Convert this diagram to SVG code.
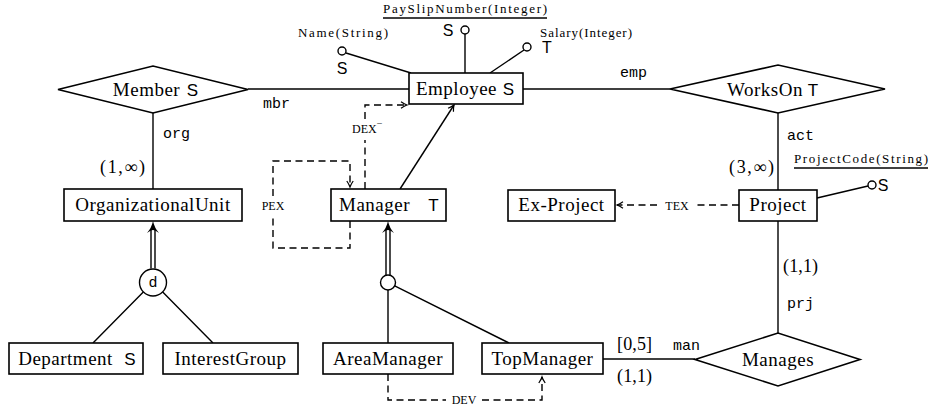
<svg xmlns="http://www.w3.org/2000/svg" width="930" height="409" viewBox="0 0 930 409">
<style>
.box{fill:#fff;stroke:#000;stroke-width:1.6}
.lbl{font-family:'Liberation Serif','Tinos','Times New Roman','DejaVu Serif',serif;font-size:19px;letter-spacing:0.5px;text-anchor:middle;fill:#000}
.sf{font-family:'Liberation Sans','Arimo','DejaVu Sans',sans-serif;font-size:17px;letter-spacing:0px}
.mk{font-family:'Liberation Sans','Arimo','DejaVu Sans',sans-serif;font-size:16px;text-anchor:middle}
.tt{font-family:'Liberation Mono','Cousine','DejaVu Sans Mono',monospace;font-size:15px}
.att{font-family:'Liberation Serif','Tinos','Times New Roman','DejaVu Serif',serif;font-size:13px}
.sc{font-family:'Liberation Serif','Tinos','Times New Roman','DejaVu Serif',serif;font-size:12px}
.math{font-family:'Liberation Serif','Tinos','Times New Roman','DejaVu Serif',serif;font-size:18px}
.ln{stroke:#000;stroke-width:1.4;fill:none}
.dash{stroke:#000;stroke-width:1.4;fill:none;stroke-dasharray:7 4.5}
.ac{fill:#fff;stroke:#000;stroke-width:1.4}
.ul{stroke:#000;stroke-width:1.3}
</style>
<defs>
<marker id="arr" markerUnits="userSpaceOnUse" markerWidth="12" markerHeight="12" viewBox="-8 -6 10 12" refX="0" refY="0" orient="auto" overflow="visible">
<path d="M-6,-3.2 Q-2.5,-0.8 0,0 Q-2.5,0.8 -6,3.2" fill="none" stroke="#000" stroke-width="1.2" stroke-dasharray="none"/>
</marker>
<path id="genhead" d="M0,0 Q1.5,7 6,12 Q2,9 0,9 Q-2,9 -6,12 Q-1.5,7 0,0 Z" fill="#000"/>
</defs>

<g id="connectors">
<path class="ln" d="M248,89 H409"/>
<path class="ln" d="M523,89 H670"/>
<path class="ln" d="M153,113 V189"/>
<path class="ln" d="M778,113 V190"/>
<path class="ln" d="M778,221 V333"/>
<path class="ln" d="M603,359 H695"/>
<path class="ln" d="M346,53 L411,73"/>
<path class="ln" d="M465,34 V73"/>
<path class="ln" d="M524,50 L490,73"/>
<path class="ln" d="M868,186 L817,198"/>
<path class="ln" d="M400,189 L454,105" marker-end="url(#arr)"/>
<path class="dash" d="M350,221 V248 H273 V214 M273,196 V161 H350 V187" marker-end="url(#arr)"/>
<path class="dash" d="M365,189 V140 M365,119 V105 H407" marker-end="url(#arr)"/>
<path class="dash" d="M388,374 V400 H446 M482,400 H542 V377" marker-end="url(#arr)"/>
<path class="dash" d="M739,205 H697 M657,205 H617" marker-end="url(#arr)"/>
<path class="ln" d="M151,268.5 V229 M155,268.5 V229"/>
<use href="#genhead" x="153" y="221"/>
<path class="ln" d="M143.3,292 L93,343 M162.7,292 L213,343"/>
<path class="ln" d="M386,275 V229 M390,275 V229"/>
<use href="#genhead" x="388" y="221"/>
<path class="ln" d="M388,290 V343 M394.7,285.8 L509,343"/>
<text class="tt" x="263" y="108">mbr</text>
<text class="tt" x="163" y="138">org</text>
<text class="tt" x="620" y="77">emp</text>
<text class="tt" x="787" y="140">act</text>
<text class="tt" x="787" y="308">prj</text>
<text class="tt" x="673" y="350">man</text>
<text class="math" x="100" y="173" textLength="45">(1,∞)</text>
<text class="math" x="729" y="173" textLength="45">(3,∞)</text>
<text class="math" x="783" y="272" textLength="35">(1,1)</text>
<text class="math" x="617" y="350" textLength="35">[0,5]</text>
<text class="math" x="617" y="382" textLength="35">(1,1)</text>
<text class="sc" x="273" y="210" text-anchor="middle">PEX</text>
<text class="sc" x="352" y="133">DEX<tspan dy="-6" font-size="10">−</tspan></text>
<text class="sc" x="464" y="404" text-anchor="middle">DEV</text>
<text class="sc" x="677" y="210" text-anchor="middle">TEX</text>
</g>

<g id="member">
<polygon class="box" points="58,89.5 153,66 248,89.5 153,113"/>
<text class="lbl" y="95.5"><tspan x="146.5">Member</tspan><tspan class="sf" x="192.5">S</tspan></text>
</g>

<g id="employee">
<rect class="box" x="409" y="73" width="114" height="31"/>
<text class="lbl" y="95"><tspan x="456.5">Employee</tspan><tspan class="sf" x="508.5">S</tspan></text>
</g>

<g id="worksOn">
<polygon class="box" points="670,89 778,65 885,89 778,113"/>
<text class="lbl" y="95.5"><tspan x="765">WorksOn</tspan><tspan class="sf" x="813">T</tspan></text>
</g>

<g id="organizationalUnit">
<rect class="box" x="64" y="189" width="178" height="32"/>
<text class="lbl" x="153" y="211">OrganizationalUnit</text>
</g>

<g id="manager">
<rect class="box" x="331" y="189" width="115" height="32"/>
<text class="lbl" y="211"><tspan x="374.5">Manager</tspan><tspan class="sf" x="433.5">T</tspan></text>
</g>

<g id="exProject">
<rect class="box" x="508" y="190" width="107" height="31"/>
<text class="lbl" x="561.5" y="211">Ex-Project</text>
</g>

<g id="project">
<rect class="box" x="739" y="190" width="78" height="31"/>
<text class="lbl" x="778" y="211">Project</text>
</g>

<g id="department">
<rect class="box" x="9" y="343" width="134" height="31"/>
<text class="lbl" y="365"><tspan x="65.5">Department</tspan><tspan class="sf" x="130">S</tspan></text>
</g>

<g id="interestGroup">
<rect class="box" x="163" y="343" width="135" height="31"/>
<text class="lbl" x="230.5" y="365">InterestGroup</text>
</g>

<g id="areaManager">
<rect class="box" x="323" y="343" width="130" height="31"/>
<text class="lbl" x="388" y="365">AreaManager</text>
</g>

<g id="topManager">
<rect class="box" x="482" y="343" width="121" height="31"/>
<text class="lbl" x="542.5" y="365">TopManager</text>
</g>

<g id="manages">
<polygon class="box" points="695,359.5 778,333 860,359.5 778,386"/>
<text class="lbl" x="778" y="365.5">Manages</text>
</g>

<g id="genOrg">
<circle class="ac" cx="153" cy="282.5" r="13.5"/>
<text class="tt" x="153" y="287" font-size="13" text-anchor="middle">d</text>
</g>

<g id="genManager">
<circle class="ac" cx="388" cy="282.5" r="7.5"/>
</g>

<g id="attrName">
<circle class="ac" cx="342" cy="51" r="4"/>
<text class="att" x="298" y="37" textLength="90">Name(String)</text>
<text class="mk" x="342" y="74">S</text>
</g>

<g id="attrPaySlip">
<circle class="ac" cx="465" cy="30" r="4"/>
<text class="att" x="383" y="13" textLength="164">PaySlipNumber(Integer)</text>
<line class="ul" x1="383" y1="18" x2="547" y2="18"/>
<text class="mk" x="448" y="36">S</text>
</g>

<g id="attrSalary">
<circle class="ac" cx="527" cy="47" r="4"/>
<text class="att" x="540" y="37" textLength="92">Salary(Integer)</text>
<text class="mk" x="547" y="53">T</text>
</g>

<g id="attrProjectCode">
<circle class="ac" cx="872" cy="185" r="4"/>
<text class="att" x="794" y="163" textLength="134">ProjectCode(String)</text>
<line class="ul" x1="794" y1="168" x2="928" y2="168"/>
<text class="mk" x="883" y="191">S</text>
</g>
</svg>
